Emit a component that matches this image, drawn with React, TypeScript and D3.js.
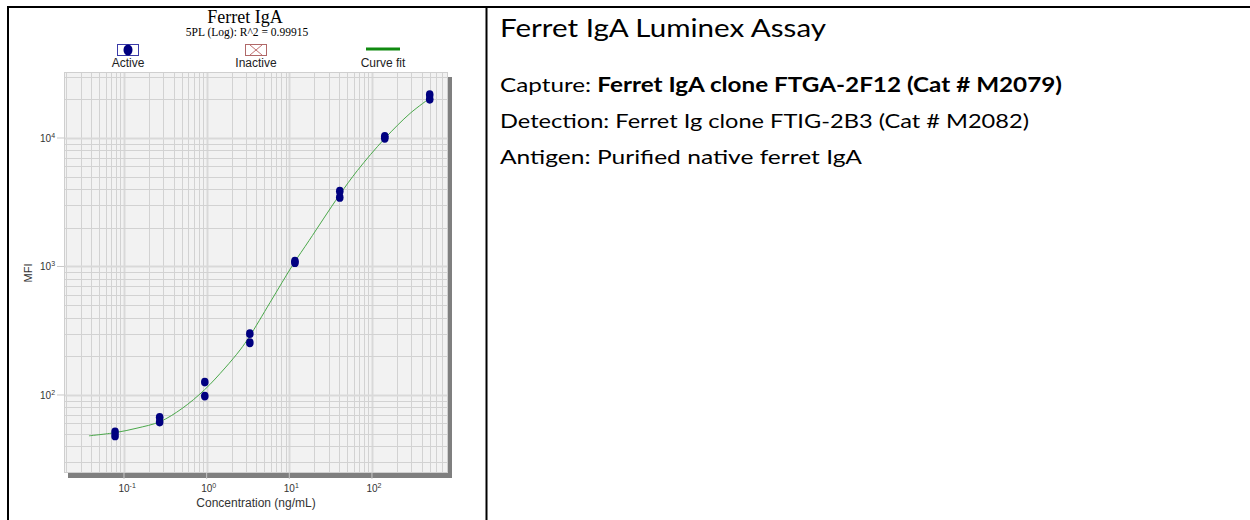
import * as d3 from "d3";

// Concentrations (ng/mL) of the standard series, two replicate MFI readings each
const concentrations = [0.078, 0.27, 0.95, 3.33, 11.7, 40.8, 143, 500];
const mfiRep1 = [51.5, 67, 126, 300, 1100, 3850, 10300, 21700];
const mfiRep2 = [48, 61.5, 98, 255, 1070, 3450, 9950, 20000];

// 5PL fitted curve
const curveConc = [0.0377, 0.0778, 0.1437, 0.2728, 0.504, 0.938, 1.671, 2.537, 3.289, 5.855, 11.21, 17.37, 40.09, 66.75, 142.5, 290, 499.5];
const curveMfi = [48.1, 50.9, 55.2, 62, 78.5, 109.4, 162.3, 224, 284.2, 524.6, 1046, 1593, 3568, 5587, 9893, 15560, 20370];

const xTickPowers = [-1, 0, 1, 2];
const yTickPowers = [2, 3, 4];

const legendItems = ["Active", "Inactive", "Curve fit"];

const infoTitle = "Ferret IgA Luminex Assay";
const infoLines = [
  { label: "Capture: ", value: "Ferret IgA clone FTGA-2F12 (Cat # M2079)", bold: true },
  { label: "Detection: ", value: "Ferret Ig clone FTIG-2B3 (Cat # M2082)", bold: false },
  { label: "Antigen: ", value: "Purified native ferret IgA", bold: false },
];

const W = 1250;
const H = 520;
const plot = { left: 64, top: 72, right: 448, bottom: 473 };

export default function App() {
  const x = d3.scaleLog().domain([0.0188, 832]).range([plot.left, plot.right]);
  const y = d3.scaleLog().domain([24.7, 32630]).range([plot.bottom, plot.top]);

  const xGrid = x.ticks();
  const yGrid = y.ticks();

  const points = concentrations.flatMap((c, i) => [
    { c, v: mfiRep1[i] },
    { c, v: mfiRep2[i] },
  ]);

  const curve = d3
    .line<number>()
    .x((_, i) => x(curveConc[i]))
    .y((d) => y(d))
    .curve(d3.curveCatmullRom.alpha(0.5));

  const axisFont = "Arial, 'Liberation Sans', sans-serif";
  const serif = "'Times New Roman', 'Liberation Serif', serif";
  const infoFont = "Lato, 'Open Sans', sans-serif";
  const legendX = [128, 256, 383];

  return (
    <div style={{ position: "fixed", left: 0, top: 0 }}>
      <svg width={W} height={H} style={{ display: "block", background: "#fff" }}>
        {/* table borders */}
        <line x1={7} x2={W} y1={7} y2={7} stroke="#000" strokeWidth={2} />
        <line x1={8} x2={8} y1={6} y2={H} stroke="#000" strokeWidth={2} />
        <line x1={486.5} x2={486.5} y1={6} y2={H} stroke="#000" strokeWidth={2} />

        {/* title */}
        <text x={245} y={23} textAnchor="middle" fontFamily={serif} fontSize={18} fill="#000">
          Ferret IgA
        </text>
        <text x={247} y={36} textAnchor="middle" fontFamily={serif} fontSize={11.5} fill="#000">
          5PL (Log): R^2 = 0.99915
        </text>

        {/* legend */}
        <g>
          <rect x={117.5} y={44.5} width={21} height={11} fill="#fff" stroke="#3a3aa8" />
          <ellipse cx={128} cy={50} rx={4.5} ry={5.5} fill="#000080" />
          <rect x={245.5} y={44.5} width={21} height={11} fill="#fff" stroke="#b06868" />
          <line x1={250} x2={262} y1={45} y2={55} stroke="#c07070" />
          <line x1={250} x2={262} y1={55} y2={45} stroke="#c07070" />
          <line x1={366} x2={400} y1={49} y2={49} stroke="#108a10" strokeWidth={3} />
          {legendItems.map((t, i) => (
            <text key={t} x={legendX[i]} y={67} textAnchor="middle" fontFamily={axisFont} fontSize={12} fill="#222">
              {t}
            </text>
          ))}
        </g>

        {/* plot area */}
        <rect x={plot.right} y={plot.top + 5} width={4} height={plot.bottom - plot.top} fill="#7f7f7f" />
        <rect x={plot.left + 4} y={plot.bottom} width={plot.right - plot.left} height={5} fill="#7f7f7f" />
        <rect x={plot.left} y={plot.top} width={plot.right - plot.left} height={plot.bottom - plot.top} fill="#f2f2f2" />

        {xGrid.map((t, i) => {
          const decade = Math.abs(Math.log10(t) - Math.round(Math.log10(t))) < 1e-9;
          return (
            <line
              key={"xg" + i}
              x1={Math.round(x(t)) + 0.5}
              x2={Math.round(x(t)) + 0.5}
              y1={plot.top}
              y2={plot.bottom}
              stroke={decade ? "#d9d9d9" : "#d2d2d2"}
              strokeWidth={decade ? 2 : 1}
            />
          );
        })}
        {yGrid.map((t, i) => {
          const decade = Math.abs(Math.log10(t) - Math.round(Math.log10(t))) < 1e-9;
          return (
            <line
              key={"yg" + i}
              x1={plot.left}
              x2={plot.right}
              y1={Math.round(y(t)) + 0.5}
              y2={Math.round(y(t)) + 0.5}
              stroke={decade ? "#d9d9d9" : "#d2d2d2"}
              strokeWidth={decade ? 2 : 1}
            />
          );
        })}
        <rect
          x={plot.left + 0.5}
          y={plot.top + 0.5}
          width={plot.right - plot.left - 1}
          height={plot.bottom - plot.top - 1}
          fill="none"
          stroke="#cfcfcf"
        />

        {/* axis ticks */}
        {yTickPowers.map((p) => (
          <line key={"yt" + p} x1={plot.left - 7} x2={plot.left} y1={y(10 ** p)} y2={y(10 ** p)} stroke="#c8c8c8" />
        ))}
        {xTickPowers.map((p) => (
          <line key={"xt" + p} x1={x(10 ** p)} x2={x(10 ** p)} y1={plot.bottom} y2={plot.bottom + 6} stroke="#c8c8c8" />
        ))}

        {/* curve fit */}
        <path d={curve(curveMfi) ?? ""} fill="none" stroke="#4aa84a" strokeWidth={1} />

        {/* data points */}
        {points.map((p, i) => (
          <ellipse key={i} cx={x(p.c)} cy={y(p.v)} rx={3.8} ry={4.4} fill="#000080" />
        ))}

        {/* axis tick labels */}
        {yTickPowers.map((p) => (
          <text key={"yl" + p} x={40} y={y(10 ** p) + 4} fontFamily={axisFont} fontSize={10} fill="#333">
            10
            <tspan dy={-4} fontSize={7}>
              {p}
            </tspan>
          </text>
        ))}
        {xTickPowers.map((p) => (
          <text key={"xl" + p} x={x(10 ** p) - 5.5} y={492} fontFamily={axisFont} fontSize={10} fill="#333">
            10
            <tspan dy={-4} fontSize={7}>
              {p}
            </tspan>
          </text>
        ))}

        {/* axis titles */}
        <text x={256} y={507} textAnchor="middle" fontFamily={axisFont} fontSize={12} fill="#333">
          Concentration (ng/mL)
        </text>
        <text
          transform="translate(32,273) rotate(-90)"
          textAnchor="middle"
          fontFamily={axisFont}
          fontSize={11}
          fill="#333"
        >
          MFI
        </text>

        {/* assay info panel */}
        <text x={500} y={37} fontFamily={infoFont} fontSize={25} fill="#000" textLength={326} lengthAdjust="spacingAndGlyphs">
          {infoTitle}
        </text>
        {infoLines.map((l, i) => {
          const lens = [562, 529, 362];
          return (
            <text
              key={l.label}
              x={500}
              y={92 + i * 36}
              fontFamily={infoFont}
              fontSize={20}
              fill="#000"
              textLength={lens[i]}
              lengthAdjust="spacingAndGlyphs"
            >
              {l.label}
              <tspan fontWeight={l.bold ? 700 : 400}>{l.value}</tspan>
            </text>
          );
        })}
      </svg>
    </div>
  );
}
